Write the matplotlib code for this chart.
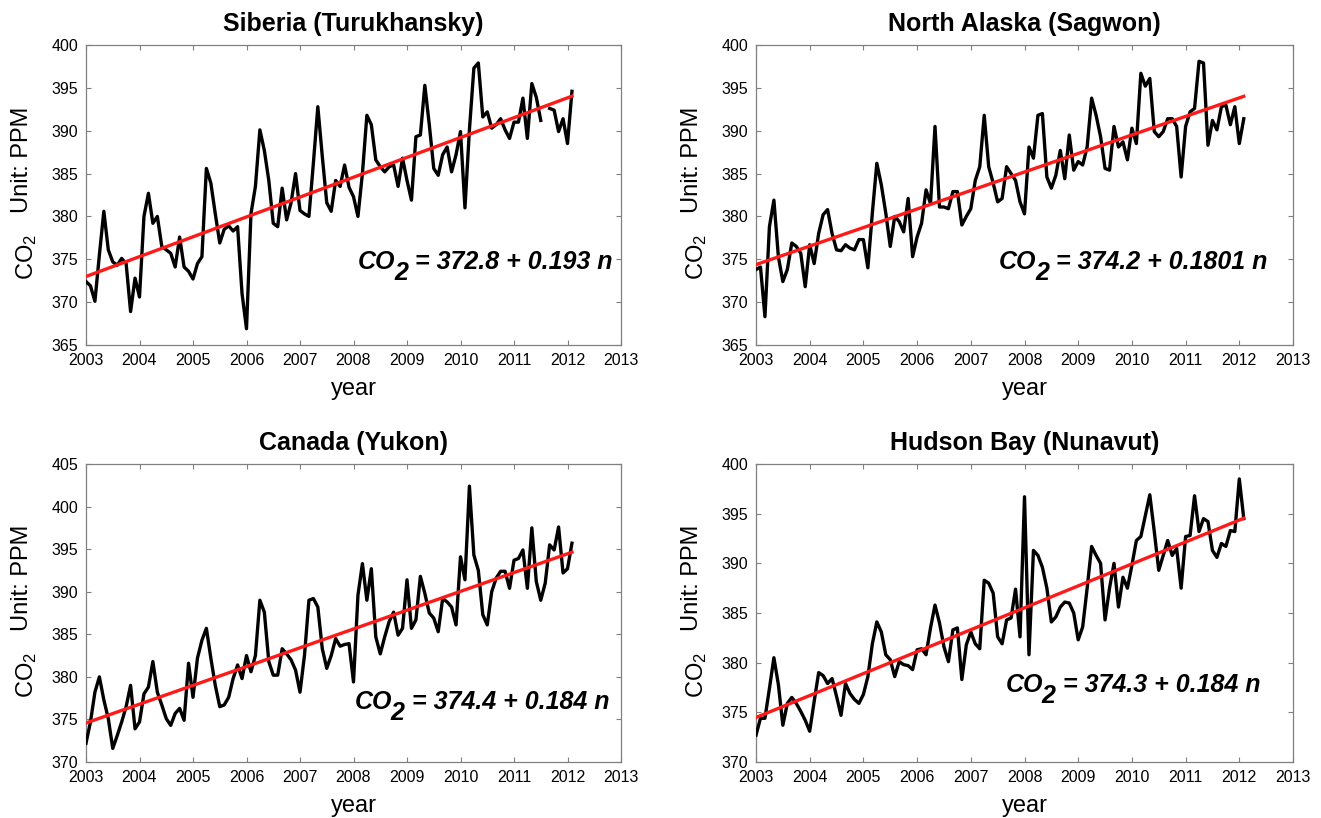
import numpy as np
import matplotlib
matplotlib.use("Agg")
import matplotlib.pyplot as plt
from matplotlib.transforms import offset_copy

plt.rcParams['font.family'] = ['Liberation Sans', 'DejaVu Sans']
plt.rcParams['mathtext.fontset'] = 'custom'
plt.rcParams['mathtext.rm'] = 'Liberation Sans'
plt.rcParams['mathtext.it'] = 'Liberation Sans:italic'
plt.rcParams['mathtext.bf'] = 'Liberation Sans:italic:bold'

nan = np.nan

# Monthly mean CO2 (ppm), starting January 2003
siberia = [
    372.4, 371.9, 370.1, 375.5, 380.6, 376.1, 374.7, 374.3, 375.1, 374.5, 368.9, 372.8,
    370.6, 380.0, 382.7, 379.2, 380.0, 376.5, 376.1, 375.7, 374.1, 377.6, 374.1, 373.6,
    372.7, 374.5, 375.3, 385.6, 383.9, 380.3, 376.9, 378.5, 378.9, 378.3, 378.8, 371.0,
    366.9, 380.3, 383.5, 390.1, 387.7, 384.2, 379.2, 378.8, 383.3, 379.6, 381.6, 385.0,
    380.7, 380.3, 380.0, 386.2, 392.8, 387.0, 381.6, 380.6, 384.2, 383.5, 386.0, 383.4,
    382.3, 380.0, 385.0, 391.8, 390.7, 386.6, 385.8, 385.2, 385.8, 386.0, 383.5, 386.8,
    384.2, 381.9, 389.3, 389.5, 395.3, 390.7, 385.6, 384.8, 387.2, 388.1, 385.2, 387.2,
    389.9, 381.0, 390.1, 397.3, 397.9, 391.6, 392.2, 390.3, 390.7, 391.4, 390.1, 389.1,
    391.0, 391.0, 393.8, 389.1, 395.5, 393.9, 391.2, nan, 392.6, 392.4, 389.9, 391.4,
    388.5, 394.6,
]

north_alaska = [
    373.8, 374.1, 368.3, 378.8, 381.9, 375.3, 372.4, 373.8, 376.9, 376.5, 375.7, 371.8,
    376.7, 374.5, 378.0, 380.2, 380.8, 378.0, 376.1, 376.0, 376.7, 376.3, 376.1, 377.3,
    377.3, 374.0, 380.4, 386.2, 383.7, 380.4, 376.5, 380.0, 379.4, 378.2, 382.1, 375.3,
    377.6, 379.2, 383.1, 381.5, 390.5, 381.1, 381.1, 380.9, 382.9, 382.9, 379.0, 380.0,
    380.9, 384.2, 385.8, 391.8, 385.8, 383.9, 381.7, 382.1, 385.8, 385.0, 384.2, 381.7,
    380.3, 388.1, 386.8, 391.8, 392.0, 384.6, 383.3, 384.8, 387.7, 384.4, 389.5, 385.4,
    386.4, 386.0, 388.1, 393.8, 391.8, 389.3, 385.6, 385.4, 390.5, 388.1, 388.7, 386.6,
    390.3, 388.5, 396.7, 395.2, 396.1, 389.9, 389.3, 389.9, 391.4, 391.4, 390.5, 384.6,
    390.5, 392.2, 392.6, 398.1, 397.9, 388.3, 391.2, 390.1, 392.8, 393.0, 390.7, 392.8,
    388.5, 391.4,
]

canada = [
    372.2, 374.7, 378.2, 380.0, 377.3, 375.1, 371.6, 373.1, 374.7, 376.5, 379.0, 373.9,
    374.7, 378.0, 378.8, 381.8, 378.2, 376.7, 375.1, 374.3, 375.7, 376.3, 374.9, 381.6,
    377.6, 382.2, 384.3, 385.7, 382.2, 379.0, 376.5, 376.7, 377.6, 379.8, 381.4, 379.8,
    382.5, 380.6, 382.5, 389.0, 387.6, 381.8, 380.2, 380.2, 383.3, 382.7, 382.0, 380.8,
    378.2, 382.5, 389.0, 389.2, 388.2, 383.3, 381.0, 382.5, 384.5, 383.6, 383.8, 383.9,
    379.4, 389.6, 393.3, 389.0, 392.7, 384.7, 382.7, 384.7, 386.5, 387.6, 384.9, 385.7,
    391.4, 385.7, 386.7, 391.8, 389.8, 387.5, 386.9, 385.3, 389.2, 388.8, 388.2, 386.1,
    394.1, 391.4, 402.4, 394.3, 392.5, 387.3, 386.1, 390.0, 391.6, 392.4, 392.4, 390.4,
    393.7, 393.9, 394.9, 390.4, 397.5, 391.2, 389.0, 391.0, 395.5, 394.9, 397.6, 392.2,
    392.7, 395.7,
]

hudson_bay = [
    372.7, 374.4, 374.4, 377.4, 380.5, 377.8, 373.7, 375.9, 376.5, 375.9, 375.1, 374.2,
    373.1, 376.1, 379.0, 378.7, 377.9, 378.4, 376.6, 374.7, 377.9, 376.9, 376.3, 375.9,
    376.8, 378.6, 381.9, 384.1, 383.1, 380.8, 380.3, 378.6, 380.1, 379.8, 379.7, 379.3,
    381.3, 381.4, 380.8, 383.5, 385.8, 384.0, 381.6, 380.1, 383.3, 383.5, 378.3, 381.8,
    383.1, 381.9, 381.4, 388.3, 388.0, 387.0, 382.6, 381.9, 384.3, 384.5, 387.4, 382.6,
    396.7, 380.8, 391.3, 390.8, 389.6, 387.5, 384.1, 384.6, 385.6, 386.1, 386.0, 385.0,
    382.3, 383.6, 387.5, 391.7, 390.8, 390.0, 384.3, 387.5, 390.0, 385.6, 388.6, 387.5,
    389.8, 392.3, 392.7, 394.8, 396.9, 393.2, 389.3, 390.8, 392.3, 390.8, 391.5, 387.5,
    392.7, 392.8, 396.8, 393.2, 394.5, 394.2, 391.3, 390.6, 392.0, 391.7, 393.3, 393.2,
    398.5, 394.5,
]

titles = ["Siberia (Turukhansky)", "North Alaska (Sagwon)",
          "Canada (Yukon)", "Hudson Bay (Nunavut)"]
intercepts = [372.8, 374.2, 374.4, 374.3]
slopes = [0.193, 0.1801, 0.184, 0.184]
ylimits = [(365, 400), (365, 400), (370, 405), (370, 400)]
xticks = list(range(2003, 2014))

series = [siberia, north_alaska, canada, hudson_bay]

# panel rectangles in figure pixels: left, top, right, bottom
W, H = 1321, 818
rects_px = [(86, 45, 621, 345), (756, 45, 1293, 345),
            (86, 464, 621, 762), (756, 464, 1293, 762)]
eq_pos = [(0.985, 0.252), (0.953, 0.252), (0.978, 0.178), (0.939, 0.235)]

fig = plt.figure(figsize=(W / 100, H / 100), dpi=100)
fig.patch.set_facecolor('white')
renderer = fig.canvas.get_renderer()


def fit_label(ax, x, y, a, b, size=18, drop=11):
    """Bold-italic regression label with a full-size lowered subscript."""
    kw = dict(fontsize=size, fontweight='bold', fontstyle='italic',
              va='baseline', ha='right')
    tail = ax.text(x, y, f" = {a} + {b} n", transform=ax.transAxes, **kw)
    w_tail = tail.get_window_extent(renderer).width
    sub = ax.text(x, y, "2", transform=offset_copy(ax.transAxes, fig=fig, x=-w_tail,
                                                   y=-drop, units='dots'), **kw)
    w_sub = sub.get_window_extent(renderer).width
    ax.text(x, y, "CO", transform=offset_copy(ax.transAxes, fig=fig,
                                              x=-(w_tail + w_sub) + 1, y=0,
                                              units='dots'), **kw)


for i in range(4):
    l, t, r, b = rects_px[i]
    ax = fig.add_axes([l / W, 1 - b / H, (r - l) / W, (b - t) / H])
    vals = np.array(series[i], dtype=float)
    n = np.arange(1, len(vals) + 1)
    years = 2003 + (n - 1) / 12.0
    ax.plot(years, vals, color='black', lw=2.4, solid_joinstyle='round', zorder=3)
    ax.plot(years, intercepts[i] + slopes[i] * n, color='#ff1a1a', lw=2.4, zorder=4)

    ax.set_xlim(2003, 2013)
    ax.set_ylim(*ylimits[i])
    ax.set_xticks(xticks)
    ax.set_yticks(np.arange(ylimits[i][0], ylimits[i][1] + 0.1, 5))
    ax.tick_params(direction='in', top=True, right=True, length=3.5, width=0.8,
                   color='#808080', labelsize=11.5, labelcolor='black')
    ax.tick_params(axis='x', pad=6)
    ax.tick_params(axis='y', pad=5.5)
    for sp in ax.spines.values():
        sp.set_color('#808080')
        sp.set_linewidth(0.9)

    ax.set_title(titles[i], fontsize=18, fontweight='bold', pad=10)

    hpx = b - t
    ax.text(0.5, -50 / hpx, "year", transform=ax.transAxes, ha='center',
            va='baseline', fontsize=17)
    ax.text(-64 / (r - l), 0.617, "Unit: PPM", transform=ax.transAxes,
            rotation=90, ha='center', va='center', fontsize=17)
    ax.text(-59.5 / (r - l), 0.293, r"CO$_2$", transform=ax.transAxes,
            rotation=90, ha='center', va='center', fontsize=17)

    fit_label(ax, eq_pos[i][0], eq_pos[i][1], intercepts[i], slopes[i])

fig.savefig("out.png", dpi=100, facecolor='white')
